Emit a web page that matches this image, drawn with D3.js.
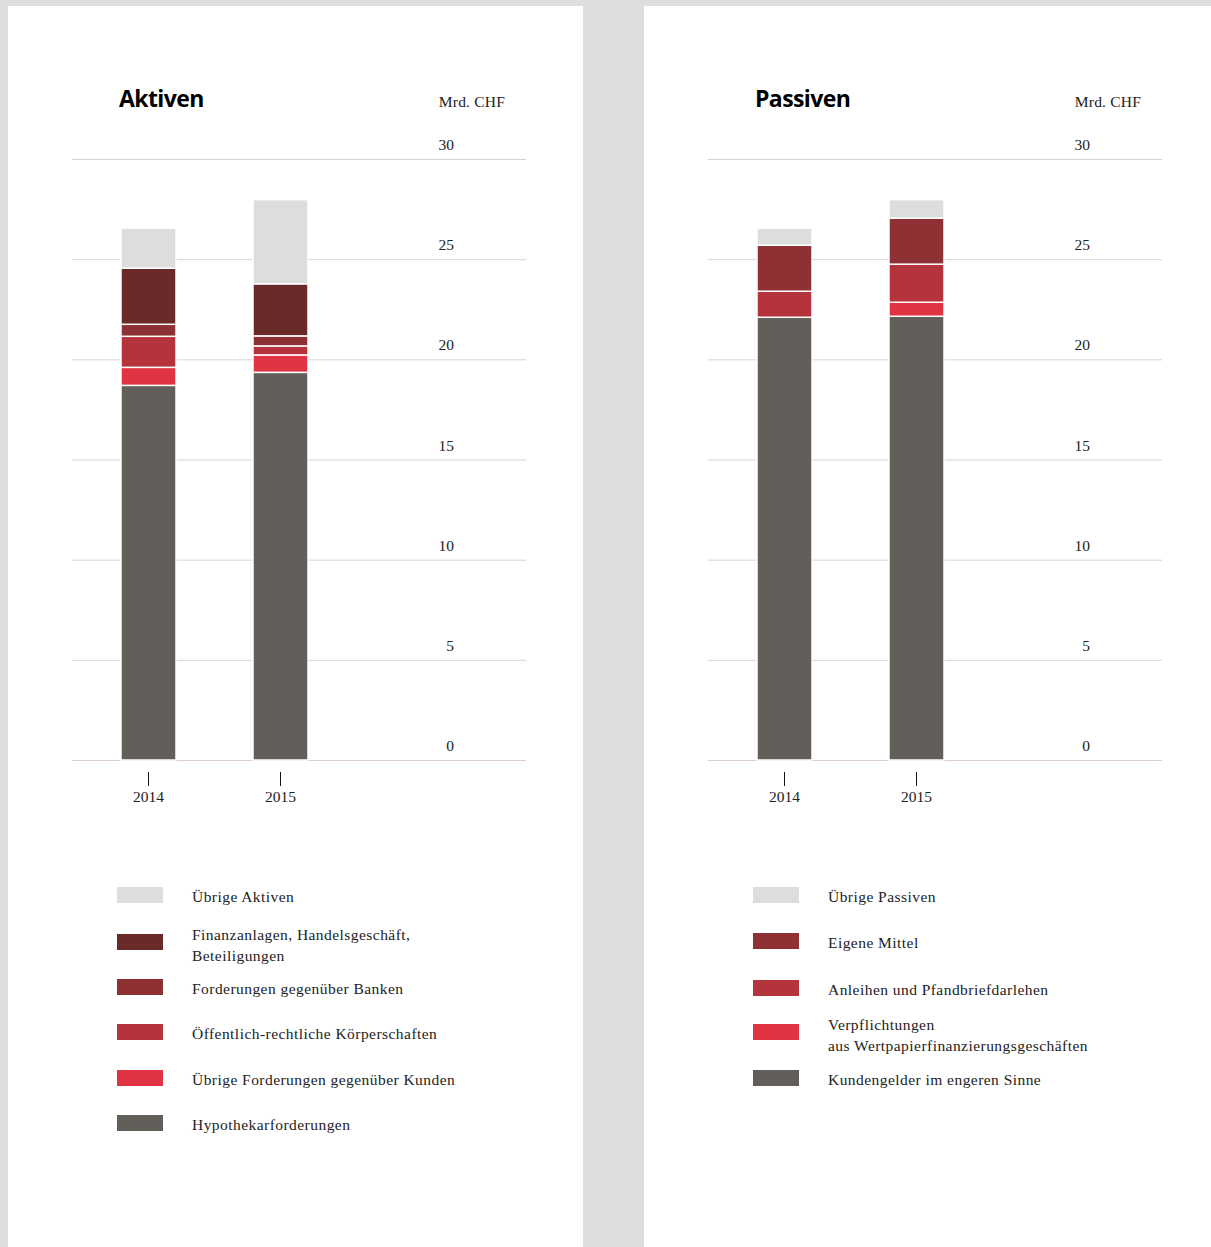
<!DOCTYPE html>
<html>
<head>
<meta charset="utf-8">
<script src="https://cdn.jsdelivr.net/npm/d3@7"></script>
<style>
  html, body { margin: 0; padding: 0; background: #dededd; }
  svg { display: block; }
</style>
</head>
<body>
<svg id="chart" width="1211" height="1247"></svg>
<script>
// Bilanzstruktur, Mrd. CHF
const years = ["2014", "2015"];
const yTicks = [0, 5, 10, 15, 20, 25, 30];

// Aktiven, von unten nach oben gestapelt
const aktivenKeys = [
  "Hypothekarforderungen",
  "Übrige Forderungen gegenüber Kunden",
  "Öffentlich-rechtliche Körperschaften",
  "Forderungen gegenüber Banken",
  "Finanzanlagen, Handelsgeschäft, Beteiligungen",
  "Übrige Aktiven"
];
const hypothekarforderungen = [18.7, 19.35];
const uebrigeForderungenKunden = [0.9, 0.87];
const oeffentlichRechtliche = [1.55, 0.45];
const forderungenBanken = [0.6, 0.5];
const finanzanlagen = [2.8, 2.6];
const uebrigeAktiven = [2.0, 4.2];

// Passiven, von unten nach oben gestapelt
const passivenKeys = [
  "Kundengelder im engeren Sinne",
  "Verpflichtungen aus Wertpapierfinanzierungsgeschäften",
  "Anleihen und Pfandbriefdarlehen",
  "Eigene Mittel",
  "Übrige Passiven"
];
const kundengelder = [22.1, 22.15];
const verpflichtungenWertpapier = [0, 0.7];
const anleihen = [1.3, 1.9];
const eigeneMittel = [2.3, 2.3];
const uebrigePassiven = [0.85, 0.92];

// Legenden (von oben nach unten), Zeilenumbrüche wie gesetzt
const aktivenLegend = [
  { key: "Übrige Aktiven", lines: ["Übrige Aktiven"] },
  { key: "Finanzanlagen, Handelsgeschäft, Beteiligungen", lines: ["Finanzanlagen, Handelsgeschäft,", "Beteiligungen"] },
  { key: "Forderungen gegenüber Banken", lines: ["Forderungen gegenüber Banken"] },
  { key: "Öffentlich-rechtliche Körperschaften", lines: ["Öffentlich-rechtliche Körperschaften"] },
  { key: "Übrige Forderungen gegenüber Kunden", lines: ["Übrige Forderungen gegenüber Kunden"] },
  { key: "Hypothekarforderungen", lines: ["Hypothekarforderungen"] }
];
const passivenLegend = [
  { key: "Übrige Passiven", lines: ["Übrige Passiven"] },
  { key: "Eigene Mittel", lines: ["Eigene Mittel"] },
  { key: "Anleihen und Pfandbriefdarlehen", lines: ["Anleihen und Pfandbriefdarlehen"] },
  { key: "Verpflichtungen aus Wertpapierfinanzierungsgeschäften", lines: ["Verpflichtungen", "aus Wertpapierfinanzierungsgeschäften"] },
  { key: "Kundengelder im engeren Sinne", lines: ["Kundengelder im engeren Sinne"] }
];

const aktivenColors = {
  "Hypothekarforderungen": "#625e5a",
  "Übrige Forderungen gegenüber Kunden": "#e03344",
  "Öffentlich-rechtliche Körperschaften": "#b5333a",
  "Forderungen gegenüber Banken": "#8e3135",
  "Finanzanlagen, Handelsgeschäft, Beteiligungen": "#6b2a2a",
  "Übrige Aktiven": "#dddddb"
};
const passivenColors = {
  "Kundengelder im engeren Sinne": "#625e5a",
  "Verpflichtungen aus Wertpapierfinanzierungsgeschäften": "#e03344",
  "Anleihen und Pfandbriefdarlehen": "#b5333a",
  "Eigene Mittel": "#8e3135",
  "Übrige Passiven": "#dddddb"
};

function rows(keys, series) {
  return years.map((yr, i) => {
    const r = { year: yr };
    keys.forEach((k, j) => r[k] = series[j][i]);
    return r;
  });
}

const aktivenRows = rows(aktivenKeys, [hypothekarforderungen, uebrigeForderungenKunden, oeffentlichRechtliche, forderungenBanken, finanzanlagen, uebrigeAktiven]);
const passivenRows = rows(passivenKeys, [kundengelder, verpflichtungenWertpapier, anleihen, eigeneMittel, uebrigePassiven]);

const svg = d3.select("#chart");
const serif = "'Liberation Serif', 'Times New Roman', serif";
const sans = "'Open Sans', 'Noto Sans', sans-serif";

// Seitenflächen
svg.append("rect").attr("x", 8).attr("y", 6).attr("width", 575).attr("height", 1241).attr("fill", "#ffffff");
svg.append("rect").attr("x", 644).attr("y", 6).attr("width", 567).attr("height", 1241).attr("fill", "#ffffff");

function drawPanel(ox, title, keys, data, colors, legend) {
  const g = svg.append("g").attr("transform", `translate(${ox},0)`);
  const y = d3.scaleLinear().domain([0, 30]).range([760, 159]);
  const x = d3.scalePoint().domain(years).range([148.5, 280.5]);
  const barW = 55;

  // Titel und Einheit
  g.append("text").attr("x", 119).attr("y", 107)
    .attr("font-family", sans).attr("font-weight", 700).attr("font-size", 23)
    .attr("letter-spacing", -0.6)
    .attr("fill", "#000").text(title);
  g.append("text").attr("x", 505).attr("y", 107).attr("text-anchor", "end")
    .attr("font-family", serif).attr("font-size", 15.5).attr("fill", "#222")
    .attr("letter-spacing", 0.2).text("Mrd. CHF");

  // Gitterlinien und Werte
  const grid = g.append("g");
  grid.selectAll("line").data(yTicks).join("line")
    .attr("x1", 72).attr("x2", 526)
    .attr("y1", d => y(d) + 0.5).attr("y2", d => y(d) + 0.5)
    .attr("stroke", d => d === 0 ? "#dccbd2" : "#d6d2d3").attr("stroke-width", 1);
  grid.selectAll("text").data(yTicks).join("text")
    .attr("x", 454).attr("y", d => y(d) - 9)
    .attr("text-anchor", "end")
    .attr("font-family", serif).attr("font-size", 15.5).attr("fill", "#222")
    .text(d => d);

  // Gestapelte Säulen
  const stacked = d3.stack().keys(keys)(data);
  g.append("g").selectAll("g").data(stacked).join("g")
    .attr("fill", s => colors[s.key])
    .selectAll("rect").data(s => s.filter(d => d[1] - d[0] > 0)).join("rect")
    .attr("x", d => x(d.data.year) - barW / 2)
    .attr("width", barW)
    .attr("y", d => y(d[1]))
    .attr("height", d => y(d[0]) - y(d[1]))
    .attr("stroke", "#ffffff").attr("stroke-width", 1.5);

  // Jahresachse
  const xa = g.append("g");
  xa.selectAll("line").data(years).join("line")
    .attr("x1", d => x(d)).attr("x2", d => x(d))
    .attr("y1", 772).attr("y2", 786)
    .attr("stroke", "#111").attr("stroke-width", 1);
  xa.selectAll("text").data(years).join("text")
    .attr("x", d => x(d)).attr("y", 802).attr("text-anchor", "middle")
    .attr("font-family", serif).attr("font-size", 15.5).attr("fill", "#222")
    .text(d => d);

  // Legende
  const swatchY = legend === aktivenLegend ? [887, 934, 979, 1024, 1070, 1115] : [887, 933, 980, 1024, 1070];
  const lg = g.append("g").selectAll("g").data(legend).join("g")
    .attr("transform", (d, i) => `translate(0,${swatchY[i]})`);
  lg.append("rect").attr("x", 117).attr("y", 0).attr("width", 46).attr("height", 16)
    .attr("fill", d => colors[d.key]);
  lg.each(function (d) {
    const t = d3.select(this).append("text")
      .attr("font-family", serif).attr("font-size", 15.5).attr("fill", "#222")
      .attr("letter-spacing", 0.45);
    const startY = d.lines.length > 1 ? 6 : 15;
    d.lines.forEach((ln, k) => {
      t.append("tspan").attr("x", 192).attr("y", startY + k * 21).text(ln);
    });
  });
}

drawPanel(0, "Aktiven", aktivenKeys, aktivenRows, aktivenColors, aktivenLegend);
drawPanel(636, "Passiven", passivenKeys, passivenRows, passivenColors, passivenLegend);
</script>
</body>
</html>
